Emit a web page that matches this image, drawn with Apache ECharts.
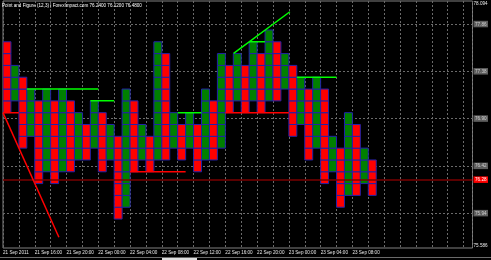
<!DOCTYPE html>
<html><head><meta charset="utf-8">
<script src="https://cdn.jsdelivr.net/npm/echarts@6/dist/echarts.min.js"></script>
<style>html,body{margin:0;padding:0;background:#000;}#c{width:491px;height:260px;}</style>
</head><body><div id="c"></div>
<script>
// ---- data ----
const titleText = 'Point and Figure (12,3) | ForexImpact.com 76.2400 76.1200 76.4800';
const boxSize = 0.12;
const colTypes = ['O','X','O','X','O','X','O','X','O','X','O','X','O','X','O','X','O','X','O','X','O','X','O','X','O','X','O','X','O','X','O','X','O','X','O','X','O','X','O','X','O','X','O','X','O','X','O'];
const colHigh = [77.68,77.44,77.32,77.20,77.08,77.20,77.08,77.20,77.08,76.96,76.84,77.08,76.96,76.84,76.72,77.20,77.08,76.84,76.72,77.68,77.56,76.96,76.84,76.96,76.84,77.20,77.08,77.56,77.44,77.56,77.44,77.68,77.56,77.80,77.68,77.56,77.44,77.32,77.20,77.32,77.20,76.72,76.60,76.96,76.84,76.60,76.48];
const colLow  = [76.96,77.08,76.60,76.72,76.24,76.36,76.24,76.36,76.36,76.48,76.48,76.60,76.36,76.48,75.88,76.00,76.36,76.48,76.36,76.48,76.48,76.60,76.48,76.60,76.36,76.48,76.48,76.60,76.96,77.08,76.96,77.08,76.96,77.08,77.08,77.20,76.72,76.84,76.48,76.60,76.24,76.36,76.00,76.12,76.12,76.24,76.12];
const xLabels = ['21 Sep 2011','21 Sep 16:00','21 Sep 20:00','22 Sep 00:00','22 Sep 04:00','22 Sep 08:00','22 Sep 12:00','22 Sep 16:00','22 Sep 20:00','23 Sep 00:00','23 Sep 04:00','23 Sep 08:00'];
const yMin = 75.586, yMax = 78.094;
const yGridVals = [77.86,77.38,76.90,76.42,75.94];
const yLabelVals = [75.586,75.94,76.28,76.42,76.90,77.38,77.86,78.094];
const currentPrice = 76.28;
const greenSegs = [
  [[3,77.20],[12,77.20]],
  [[11,77.08],[14,77.08]],
  [[22,76.96],[25,76.96]],
  [[31,77.68],[33,77.68]],
  [[37,77.32],[42,77.32]],
  [[29.04,77.563],[36.125,77.985]]
];
const redSegs = [
  [[0,76.96],[7.04,75.695]],
  [[0,76.96],[2,76.96]],
  [[16,76.36],[23,76.36]],
  [[28,76.96],[36,76.96]]
];

// ---- chart ----
const FONT = 'Liberation Sans';
const colData = colTypes.map((t,i)=>[i, colLow[i], colHigh[i], t==='X'?1:0]);
function renderCol(params, api){
  const i = api.value(0), low = api.value(1), high = api.value(2), up = api.value(3);
  const n = Math.round((high-low)/boxSize);
  const children = [];
  for(let k=0;k<n;k++){
    const a = api.coord([i, low + k*boxSize]);
    const b = api.coord([i+1, low + (k+1)*boxSize]);
    children.push({type:'rect', shape:{x:a[0], y:b[1], width:b[0]-a[0], height:a[1]-b[1]},
      style:{fill: up ? '#008000' : '#ff0000', stroke:'#2222a8', lineWidth:1}});
  }
  return {type:'group', children};
}
const segSeries = (segs, color) => segs.map(s => ({
  type:'line', data:s, symbol:'none', silent:true, animation:false, z:5,
  lineStyle:{color, width:1.5}
}));
const chart = echarts.init(document.getElementById('c'), null, {renderer:'canvas'});
chart.setOption({
  backgroundColor:'#000000',
  animation:false,
  title:{text:titleText, left:2, top:3, padding:0,
    textStyle:{color:'#ffffff', fontSize:4.6, fontWeight:'normal', fontFamily:FONT}},
  grid:{left:1, right:17, top:1, bottom:12, show:true, borderColor:'#808080', borderWidth:1, backgroundColor:'#000'},
  xAxis:{type:'value', min:0, max:59.125, interval:2,
    axisLine:{show:false}, axisTick:{show:false},
    splitLine:{show:true, lineStyle:{color:'#6a6a6a', type:[2,2], width:1}},
    axisLabel:{color:'#e8e8e8', fontSize:4.6, fontFamily:FONT, align:'left', margin:2.5, showMaxLabel:false, showMinLabel:true,
      formatter:v => (v%4===0 && xLabels[v/4]) ? xLabels[v/4] : ''}},
  yAxis:{type:'value', min:yMin, max:yMax, position:'right',
    axisLine:{show:false},
    axisTick:{show:false, customValues:yGridVals},
    splitLine:{show:true, lineStyle:{color:'#6a6a6a', type:[2,2], width:1}},
    axisLabel:{customValues:yLabelVals, margin:1, fontSize:4.6, fontFamily:FONT, color:'#e8e8e8',
      verticalAlignMinLabel:'bottom', verticalAlignMaxLabel:'top',
      formatter:v => {
        const s = String(v);
        if (v===currentPrice) return '{r|'+v.toFixed(2)+'}';
        if (v===yMin || v===yMax) return '{p|'+s+'}';
        return '{g|'+v.toFixed(2)+'}';
      },
      rich:{
        r:{backgroundColor:'#ff0000', color:'#ffffff', fontSize:4.6, fontFamily:FONT, padding:[1,1.5,0.5,1.5]},
        g:{backgroundColor:'#5e5e5e', color:'#d0d0d0', fontSize:4.6, fontFamily:FONT, padding:[1,1.5,0.5,1.5]},
        p:{color:'#e8e8e8', fontSize:4.6, fontFamily:FONT}
      }}},
  graphic:[
    {type:'rect', shape:{x:0, y:257, width:491, height:1}, style:{fill:'#6a6a6a'}, silent:true},
    {type:'rect', shape:{x:162, y:258, width:35, height:2}, style:{fill:'#e0e0e0'}, silent:true}
  ],
  series:[
    {type:'line', data:[], z:1, silent:true,
      markLine:{symbol:'none', silent:true, label:{show:false}, animation:false,
        lineStyle:{color:'#7a0000', width:1.5, type:'solid'}, data:[{yAxis:currentPrice}]}},
    {type:'custom', data:colData, renderItem:renderCol, z:3, silent:true, clip:true,
      encode:{x:0, y:[1,2]}},
    ...segSeries(greenSegs, '#00ff00'),
    ...segSeries(redSegs, '#ff0000')
  ]
});
</script></body></html>
